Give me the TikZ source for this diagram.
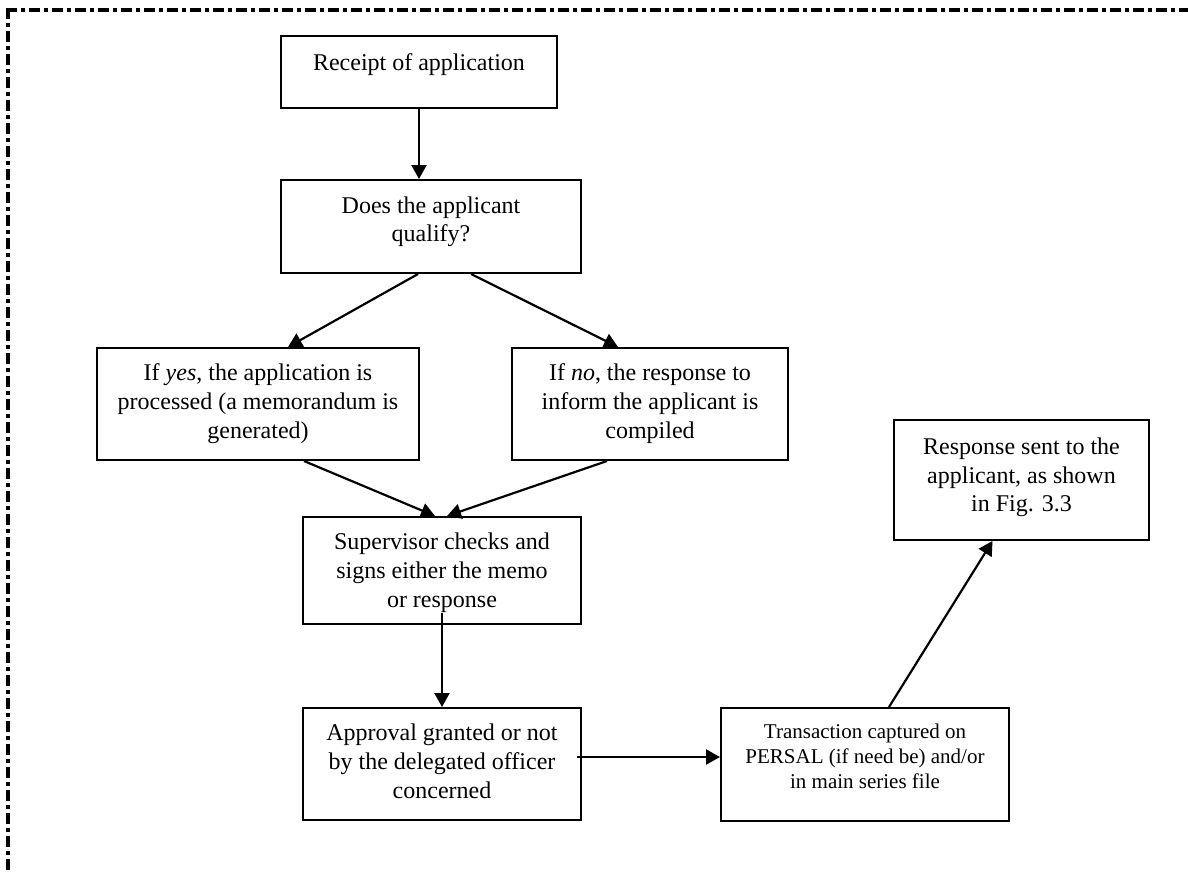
\documentclass[tikz,border=0pt]{standalone}
\usepackage{fontspec}
\setmainfont{Liberation Serif}
\usetikzlibrary{arrows.meta,calc}
% width, height, depth of first baseline below the top edge, lines
\newcommand{\boxtext}[4]{\parbox[c][#2][t]{#1}{\vspace*{\dimexpr#3-10pt\relax}\centering\rule{0pt}{10pt}#4}}
\begin{document}
\begin{tikzpicture}[x=0.5pt,y=-0.5pt,
  box/.style={draw, line width=1pt, inner sep=0pt, font=\fontsize{12}{14.3}\selectfont},
  smallbox/.style={box, font=\fontsize{10.5}{12.5}\selectfont},
  flow/.style={line width=1.1pt, -{Triangle[length=7pt,width=7.5pt]}},
  borderline/.style={line width=1.6pt, dash pattern=on 5.5pt off 2pt on 1.75pt off 2.25pt}]
\useasboundingbox (0,0) rectangle (1188,873);

% dash-dot frame (top and left edges)
\draw[borderline] (6.4,10) -- (1200,10);
\draw[borderline] (8,8.4) -- (8,885);

% process boxes
\node[box] (rec) at (419,72) {\boxtext{138pt}{36pt}{17pt}{Receipt of application}};
\node[box] (does) at (431,226.5) {\boxtext{150pt}{46.5pt}{16.6pt}{Does the applicant\\qualify?}};
\node[box] (yes) at (258,404) {\boxtext{161pt}{56pt}{16.4pt}{If \textit{yes}, the application is\\processed (a memorandum is\\generated)}};
\node[box] (no) at (650,404) {\boxtext{138pt}{56pt}{16.4pt}{If \textit{no}, the response to\\inform the applicant is\\compiled}};
\node[box] (sup) at (442,570.5) {\boxtext{139pt}{53.5pt}{16.4pt}{Supervisor checks and\\signs either the memo\\or response}};
\node[box] (app) at (442,764) {\boxtext{139pt}{56pt}{16.4pt}{Approval granted or not\\by the delegated officer\\concerned}};
\node[smallbox] (tra) at (865,764.5) {\boxtext{144pt}{56.5pt}{15.2pt}{Transaction captured on\\PERSAL (if need be) and/or\\in main series file}};
\node[box] (res) at (1021.5,480) {\boxtext{127.5pt}{60pt}{17.2pt}{Response sent to the\\applicant, as shown\\in Fig. 3.3}};

% connectors
\draw[flow] (rec.south) -- (rec.south |- does.north);
\draw[flow] ($(does.south)+(-13,0)$) -- ($(yes.north)+(30,0)$);
\draw[flow] ($(does.south)+(40,0)$) -- ($(no.north)+(-32,0)$);
\draw[flow] ($(yes.south)+(46,0)$) -- ($(sup.north)+(-7,0)$);
\draw[flow] ($(no.south)+(-43,0)$) -- ($(sup.north)+(5,0)$);
\draw[flow] ($(sup.south)+(0,-12)$) -- (app.north);
\coordinate (appout) at ($(app.east)+(-5,-7)$);
\draw[flow] (appout) -- (appout -| tra.west);
\draw[flow] ($(tra.north)+(24,0)$) -- ($(res.south)+(-29,0)$);
\end{tikzpicture}
\end{document}
